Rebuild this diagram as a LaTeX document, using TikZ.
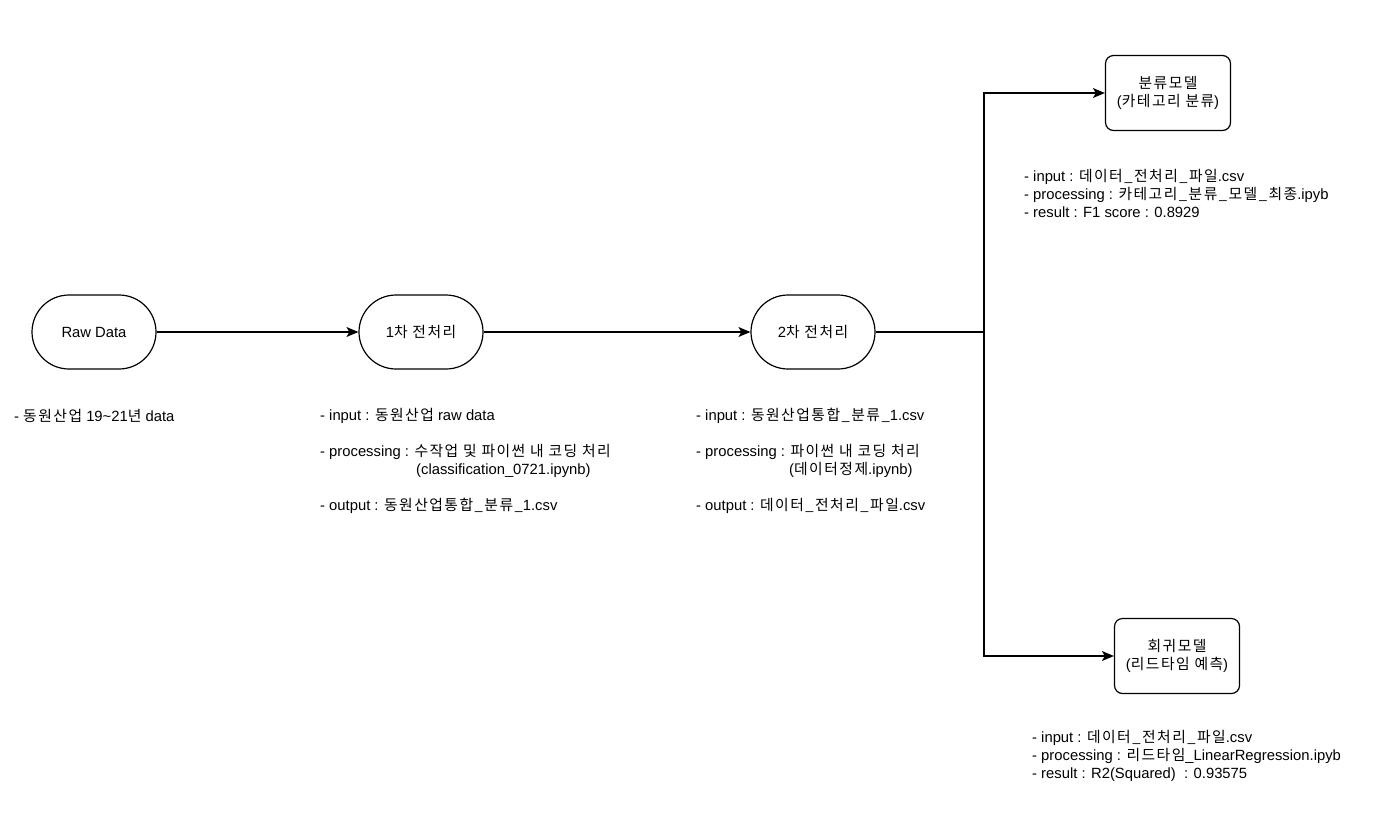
\documentclass[tikz,border=0pt]{standalone}
\usepackage{fontspec}
\setmainfont{Liberation Sans}
\newfontfamily\hangul[Scale=1.0, LetterSpace=10]{Noto Sans CJK KR}
\usetikzlibrary{arrows.meta}

\tikzset{
  stadium/.style={draw, line width=1.2pt, rounded corners=37pt, minimum width=124pt, minimum height=74pt, font=\fontsize{14.8}{18}\selectfont},
  modelbox/.style={draw, line width=1.2pt, rounded corners=8pt, minimum width=125pt, minimum height=75pt, align=center, font=\fontsize{14.8}{18}\selectfont},
  note/.style={anchor=base west, inner sep=0pt, align=left, font=\fontsize{14.8}{18}\selectfont},
  flow/.style={line width=1.2pt, -{Stealth[length=12pt, width=10pt, inset=3pt]}}
}

\begin{document}
\begin{tikzpicture}[x=1pt, y=-1pt]
      \useasboundingbox (0,0) rectangle (1376,831);

      \node[stadium] (raw) at (94,332) {Raw Data};
      \node[stadium] (pre1) at (421,332) {1{\hangul 차 전처리}};
      \node[stadium] (pre2) at (813,332) {2{\hangul 차 전처리}};
      \node[modelbox] (cls) at (1168,93) {{\hangul 분류모델}\\({\hangul 카테고리 분류})};
      \node[modelbox] (reg) at (1177,656) {{\hangul 회귀모델}\\({\hangul 리드타임 예측})};
      \coordinate (split) at (984,332);

      \draw[flow] (raw) -- (pre1);
      \draw[flow] (pre1) -- (pre2);
      \draw[flow] (pre2.east) -- (split) |- (cls.west);
      \draw[flow] (split) |- (reg.west);

      % base anchor sits on the last line
      \node[note] (rawnote) at (14,421) {- {\hangul 동원산업} 19\textasciitilde21{\hangul 년} data};
      \node[note] (pre1note) at (320,510) {- input : {\hangul 동원산업} raw data\\[18pt]
        - processing : {\hangul 수작업 및 파이썬 내 코딩 처리}\\
        \hspace*{96pt}(classification\_0721.ipynb)\\[18pt]
        - output : {\hangul 동원산업통합\_분류\_}1.csv};
      \node[note] (pre2note) at (696,510) {- input : {\hangul 동원산업통합\_분류\_}1.csv\\[18pt]
        - processing : {\hangul 파이썬 내 코딩 처리}\\
        \hspace*{93pt}({\hangul 데이터정제}.ipynb)\\[18pt]
        - output : {\hangul 데이터\_전처리\_파일}.csv};
      \node[note] (clsnote) at (1024,217) {- input : {\hangul 데이터\_전처리\_파일}.csv\\
        - processing : {\hangul 카테고리\_분류\_모델\_최종}.ipyb\\
        - result : F1 score : 0.8929};
      \node[note] (regnote) at (1032,778) {- input : {\hangul 데이터\_전처리\_파일}.csv\\
        - processing : {\hangul 리드타임}\_LinearRegression.ipyb\\
        - result : R2(Squared)\ \ : 0.93575};
\end{tikzpicture}
\end{document}
